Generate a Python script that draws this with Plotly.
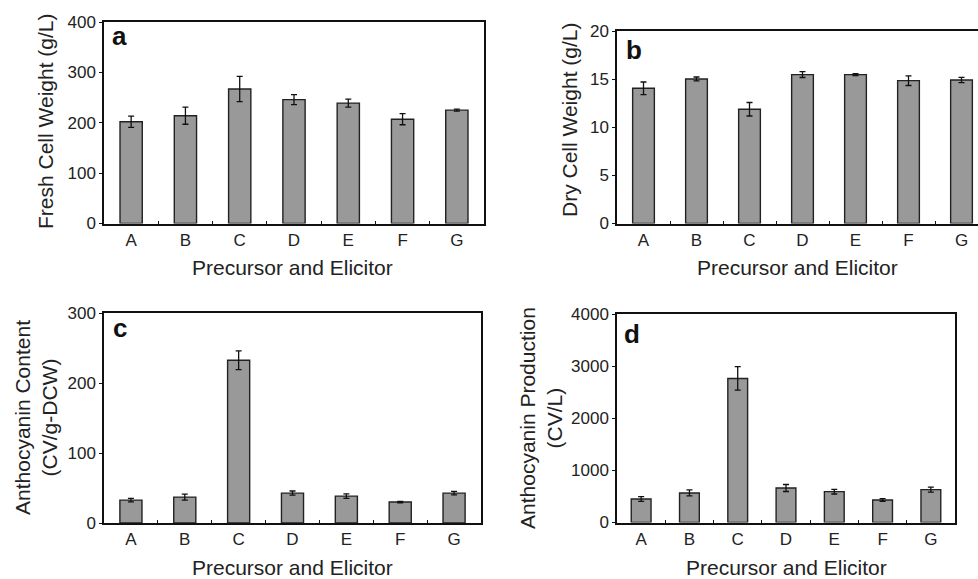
import plotly.graph_objects as go

categories = ["A", "B", "C", "D", "E", "F", "G"]

fresh_weight = [202, 214, 267, 246, 239, 207, 225]
fresh_err = [11, 17, 25, 10, 8, 11, 2]

dry_weight = [14.05, 15.02, 11.87, 15.47, 15.47, 14.84, 14.91]
dry_err = [0.65, 0.2, 0.7, 0.3, 0.1, 0.5, 0.28]

antho_content = [32.7, 37.0, 232.5, 42.7, 38.4, 29.9, 42.7]
antho_content_err = [2.4, 4.3, 13.3, 3.0, 3.3, 1.0, 2.6]

antho_prod = [452, 567, 2764, 662, 592, 433, 631]
antho_prod_err = [45, 57, 225, 67, 45, 25, 48]

x_title = "Precursor and Elicitor"
y_titles = ["Fresh Cell Weight (g/L)", "Dry Cell Weight (g/L)",
            "Anthocyanin Content<br>(CV/g-DCW)", "Anthocyanin Production<br>(CV/L)"]
panel_labels = ["a", "b", "c", "d"]

W, H = 978, 579
FONT = "Liberation Sans, Arial, sans-serif"
TXT = "#222222"

def px_x(v):
    return v / W

def px_y(v):
    return 1 - v / H

# plot frames in pixels: (left, right, top, bottom)
frames = [
    (104, 484, 22, 223.5),
    (617, 978, 31, 223.5),
    (104, 481, 313, 523),
    (617, 955, 314, 522.5),
]
yranges = [[0, 400], [0, 20], [0, 300], [0, 4000]]
ydticks = [100, 5, 100, 1000]
xranges = [[-0.5, 6.5], [-0.5, 6.5 - 10 / 53], [-0.5, 6.5], [-0.5, 6.5]]
series = [(fresh_weight, fresh_err), (dry_weight, dry_err),
          (antho_content, antho_content_err), (antho_prod, antho_prod_err)]

fig = go.Figure()
layout = dict(
    template="none",
    width=W, height=H, margin=dict(l=0, r=0, t=0, b=0, autoexpand=False),
    paper_bgcolor="white", plot_bgcolor="white", showlegend=False,
    font=dict(family=FONT, color=TXT, size=17),
    bargap=0.59,
)

for i, ((vals, errs), fr) in enumerate(zip(series, frames)):
    n = "" if i == 0 else str(i + 1)
    fig.add_trace(go.Bar(
        x=categories, y=vals,
        xaxis="x" + n, yaxis="y" + n,
        marker=dict(color="#999999", line=dict(color="#222222", width=1.4)),
        error_y=dict(type="data", array=errs, visible=True,
                     color="#111111", thickness=1.3, width=3),
    ))
    l, r, t, b = fr
    layout["xaxis" + n] = dict(
        domain=[px_x(l), px_x(r)], anchor="y" + n,
        range=xranges[i], type="category", automargin=False,
        showline=True, linecolor="#111111", linewidth=1.5,
        mirror=True, ticks="inside", ticklen=3, tickcolor="#111111",
        tickson="boundaries", showgrid=False, zeroline=False,
        tickfont=dict(size=17, color=TXT, family=FONT),
        fixedrange=True,
    )
    layout["yaxis" + n] = dict(
        domain=[px_y(b), px_y(t)], anchor="x" + n,
        range=yranges[i], dtick=ydticks[i], automargin=False,
        showline=True, linecolor="#111111", linewidth=1.5,
        mirror=(i != 1), ticks="outside", ticklen=3, tickcolor="#111111",
        showgrid=False, zeroline=False,
        tickfont=dict(size=17, color=TXT, family=FONT),
        fixedrange=True,
    )

fig.update_layout(**layout)

# axis titles & panel labels
xt_pos = [(292, 267), (797, 267), (292, 567), (786, 567)]
yt_pos = [(45, 121), (570, 120), (36, 418), (541, 418)]
lab_pos = [(119, 36), (634, 50), (120, 328), (632, 334)]

for i in range(4):
    fig.add_annotation(text=x_title, x=px_x(xt_pos[i][0]), y=px_y(xt_pos[i][1]),
                       xref="paper", yref="paper", showarrow=False,
                       xanchor="center", yanchor="middle",
                       font=dict(size=21, color=TXT, family=FONT))
    fig.add_annotation(text=y_titles[i], x=px_x(yt_pos[i][0]), y=px_y(yt_pos[i][1]),
                       xref="paper", yref="paper", showarrow=False, textangle=-90,
                       xanchor="center", yanchor="middle",
                       font=dict(size=21, color=TXT, family=FONT))
    fig.add_annotation(text="<b>" + panel_labels[i] + "</b>",
                       x=px_x(lab_pos[i][0]), y=px_y(lab_pos[i][1]),
                       xref="paper", yref="paper", showarrow=False,
                       xanchor="center", yanchor="middle",
                       font=dict(size=26, color="#111111", family=FONT))

fig.write_html("out.html",
               config={"displayModeBar": False},
               post_script="document.body.style.margin='0px';document.body.style.overflow='hidden';")
